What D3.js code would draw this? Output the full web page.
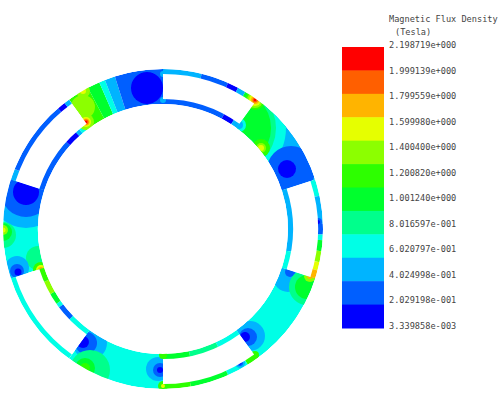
<!DOCTYPE html>
<html>
<head>
<meta charset="utf-8">
<script src="https://cdn.jsdelivr.net/npm/d3@7"></script>
<style>
html, body { margin: 0; padding: 0; background: #fff; }
svg { display: block; }
</style>
</head>
<body>
<div id="chart"></div>
<script>
// Legend values, top to bottom
var legendLabels = ["2.198719e+000", "1.999139e+000", "1.799559e+000", "1.599980e+000", "1.400400e+000", "1.200820e+000",
    "1.001240e+000", "8.016597e-001", "6.020797e-001", "4.024998e-001", "2.029198e-001", "3.339858e-003"];
// Band index runs from lowest (0) to highest (11) flux density
var bandColors = ["#0000ff", "#005fff", "#00b4ff", "#00ffe6", "#00ff8c", "#00ff2d", "#2dff00", "#8cff00", "#e6ff00", "#ffb400", "#ff5f00", "#ff0000"];

// Rotor geometry in mm
var rotorInner = 62.5, rotorOuter = 80, slotInner = 65, slotOuter = 77.5;
var slotStart = [0, 72, 144, 216, 288];
var slotSpan = 36;

// Tooth field: angular bands (degrees clockwise from the top)
var toothFrom = [36, 108, 180, 252, 324, 332, 336.5, 338.7, 342.5];
var toothTo = [72, 144, 216, 288, 332, 336.5, 338.7, 342.5, 360];
var toothBand = [2, 3, 3, 3, 6, 5, 3, 2, 1];

// Tooth field: closed contours, x/y/radius in mm
var blobX = [-40, -8, 34.5, 34.5, 34.5, 64, 62, 49, 49, 49, 38, 38, -68.5, -68.5, -68.5, -80, -80, -80, -80, -62.5, -61, -61, -61, -61, -73, -73, -72.5,
    -36.5, -38.5, -40, -36.5, -39, -39, -2.5, -1.5, -1.5, 43.5, 42.5, 41, 62.5, 63.5, 72, 72, 73.5, 73.5];
var blobY = [61, 70.5, 50.5, 50.5, 50.5, 29.5, 30, 40.5, 40.5, 40.5, 52, 52, 18.5, 18.5, 18.5, -3, -1.5, -0.5, -0.5, -14.5, -20.5, -20.5, -20.5, -20.5, -19.5, -21, -21.5,
    -57, -57, -56.5, -70.5, -69.5, -69.5, -70, -70.5, -70.5, -53.5, -54, -54, -24, -21.5, -29, -29, -23.5, -23.5];
var blobR = [6, 8, 27, 22, 19.5, 12, 4.5, 4.5, 2.5, 1.5, 3.5, 2, 18, 12.5, 6.5, 6.5, 4.5, 2.5, 1.25, 6, 4, 2.5, 1.5, 0.75, 6, 3.5, 1.75,
    8.5, 5.5, 3, 10, 5, 2.5, 6, 3.5, 1.5, 7.5, 4.5, 2.5, 7.5, 2.5, 9, 6, 3, 1.5];
var blobBand = [7, 0, 3, 4, 5, 1, 0, 6, 7, 8, 3, 2, 2, 1, 0, 4, 5, 7, 8, 4, 6, 8, 9, 10, 2, 1, 0,
    2, 1, 0, 4, 5, 6, 2, 1, 0, 2, 1, 0, 2, 1, 4, 5, 7, 9];

// Bridge field: bands above and below each slot
var bridgeFrom = [0, 14, 24, 28, 31, 33, 0, 28, 33,
    72, 78, 88, 92, 94, 98, 102, 105, 72, 100,
    144, 148, 156, 170, 144, 155, 168,
    216, 216, 226, 233, 235, 240, 246,
    288, 292, 319, 322, 288, 312, 318, 320, 322];
var bridgeTo = [14, 24, 28, 31, 33, 36, 28, 33, 36,
    78, 88, 92, 94, 98, 102, 105, 108, 100, 108,
    148, 156, 170, 180, 155, 168, 180,
    252, 226, 233, 235, 240, 246, 252,
    292, 319, 322, 324, 312, 318, 320, 322, 324];
var bridgeOuterSide = [1, 1, 1, 1, 1, 1, 0, 0, 0,
    1, 1, 1, 1, 1, 1, 1, 1, 0, 0,
    1, 1, 1, 1, 0, 0, 0,
    1, 0, 0, 0, 0, 0, 0,
    1, 1, 1, 1, 0, 0, 0, 0, 0];
var bridgeBand = [2, 1, 0, 2, 5, 8, 1, 0, 2,
    3, 2, 1, 3, 5, 7, 8, 9, 2, 3,
    6, 3, 5, 6, 3, 4, 5,
    3, 3, 1, 3, 5, 7, 6,
    2, 1, 0, 2, 1, 0, 2, 3, 5];

// Local spots around the slot corners, the slots are painted over them
var spotX = [-38.5, -38.5, -38.5, -38.5, -38.5, -40, -40, 46, 46, 46, 46, 46, 46, 38.5, 38.5, 38.5, 77.5, 77.5, 0, 0, -74, 0, 0, 0, 46];
var spotY = [53.5, 53.5, 53.5, 53.5, 53.5, 69, 69, 64.5, 64.5, 64.5, 64.5, 64.5, 64.5, -67, -67, -67, 3.5, 3.5, 64.5, 77.5, 26, -63, -78.5, -78.5, -63];
var spotR = [4, 2.5, 1.75, 1.25, 0.6, 3.5, 1.5, 5, 4, 3, 2, 1.25, 0.6, 2.5, 1.5, 0.75, 2, 1, 1.5, 1.5, 1.5, 2, 2.5, 1, 2];
var spotBand = [7, 8, 9, 10, 11, 7, 8, 6, 7, 8, 9, 10, 11, 2, 1, 0, 1, 0, 2, 2, 2, 6, 6, 8, 6];

function createRotorPlot() {
    var svg = d3.select("#chart")
        .append("svg")
        .attr("width", 500)
        .attr("height", 396);

    var xScale = d3.scaleLinear().domain([-80, 80]).range([3, 323]);
    var yScale = d3.scaleLinear().domain([-80, 80]).range([389, 69]);
    var rScale = d3.scaleLinear().domain([0, 80]).range([0, 160]);
    var angleScale = d3.scaleLinear().domain([0, 360]).range([0, 2 * Math.PI]);

    function sector(from, to, inner, outer) {
        return d3.arc()({
            startAngle: angleScale(from),
            endAngle: angleScale(to),
            innerRadius: rScale(inner),
            outerRadius: rScale(outer)
        });
    }

    var center = "translate(" + xScale(0) + "," + yScale(0) + ")";
    var defs = svg.append("defs");

    defs.append("filter").attr("id", "soften")
        .append("feGaussianBlur").attr("stdDeviation", 0.45);

    defs.append("clipPath").attr("id", "ring-clip")
        .append("path")
        .attr("transform", center)
        .attr("d", sector(0, 360, rotorInner, rotorOuter));

    // Teeth are the gaps between the slots
    defs.append("clipPath").attr("id", "tooth-clip")
        .selectAll("path")
        .data(slotStart)
        .enter()
        .append("path")
        .attr("transform", center)
        .attr("d", function (d) { return sector(d + slotSpan, d + 72, rotorInner, rotorOuter); });

    var plot = svg.append("g").attr("filter", "url(#soften)");
    var ring = plot.append("g").attr("clip-path", "url(#ring-clip)");
    var teeth = ring.append("g").attr("clip-path", "url(#tooth-clip)");

    teeth.selectAll("path")
        .data(toothBand)
        .enter()
        .append("path")
        .attr("transform", center)
        .attr("d", function (d, i) { return sector(toothFrom[i], toothTo[i], rotorInner, rotorOuter); })
        .style("fill", function (d) { return bandColors[d]; });

    teeth.selectAll("circle")
        .data(blobBand)
        .enter()
        .append("circle")
        .attr("cx", function (d, i) { return xScale(blobX[i]); })
        .attr("cy", function (d, i) { return yScale(blobY[i]); })
        .attr("r", function (d, i) { return rScale(blobR[i]); })
        .style("fill", function (d) { return bandColors[d]; });

    var bridges = ring.append("g");
    bridges.selectAll("path")
        .data(bridgeBand)
        .enter()
        .append("path")
        .attr("transform", center)
        .attr("d", function (d, i) {
            return bridgeOuterSide[i] ? sector(bridgeFrom[i], bridgeTo[i], slotOuter - 0.5, rotorOuter)
                : sector(bridgeFrom[i], bridgeTo[i], rotorInner, slotInner + 0.5);
        })
        .style("fill", function (d) { return bandColors[d]; });

    ring.append("g").selectAll("circle")
        .data(spotBand)
        .enter()
        .append("circle")
        .attr("cx", function (d, i) { return xScale(spotX[i]); })
        .attr("cy", function (d, i) { return yScale(spotY[i]); })
        .attr("r", function (d, i) { return rScale(spotR[i]); })
        .style("fill", function (d) { return bandColors[d]; });

    // Slots are air, left white
    ring.append("g").selectAll("path")
        .data(slotStart)
        .enter()
        .append("path")
        .attr("transform", center)
        .attr("d", function (d) { return sector(d, d + slotSpan, slotInner, slotOuter); })
        .style("fill", "#fff");

    // Legend
    var legendBox = d3.scaleBand().domain(legendLabels).range([47, 328]);
    var legendText = d3.scalePoint().domain(legendLabels).range([45, 326]);

    svg.append("g").selectAll("rect")
        .data(legendLabels)
        .enter()
        .append("rect")
        .attr("x", 342)
        .attr("y", function (d) { return legendBox(d); })
        .attr("width", 42)
        .attr("height", legendBox.bandwidth() + 0.5)
        .style("fill", function (d, i) { return bandColors[bandColors.length - 1 - i]; });

    var font = "'DejaVu Sans Mono', monospace";
    svg.append("g").selectAll("text")
        .data(legendLabels)
        .enter()
        .append("text")
        .attr("x", 389)
        .attr("y", function (d) { return legendText(d); })
        .attr("dy", "0.35em")
        .style("font-family", font)
        .style("font-size", "8.6px")
        .style("fill", "#444")
        .text(function (d) { return d; });

    svg.append("text").attr("x", 389).attr("y", 22)
        .style("font-family", font).style("font-size", "8.6px").style("fill", "#444")
        .text("Magnetic Flux Density");
    svg.append("text").attr("x", 395).attr("y", 35)
        .style("font-family", font).style("font-size", "8.6px").style("fill", "#444")
        .text("(Tesla)");
}

createRotorPlot();
</script>
</body>
</html>
